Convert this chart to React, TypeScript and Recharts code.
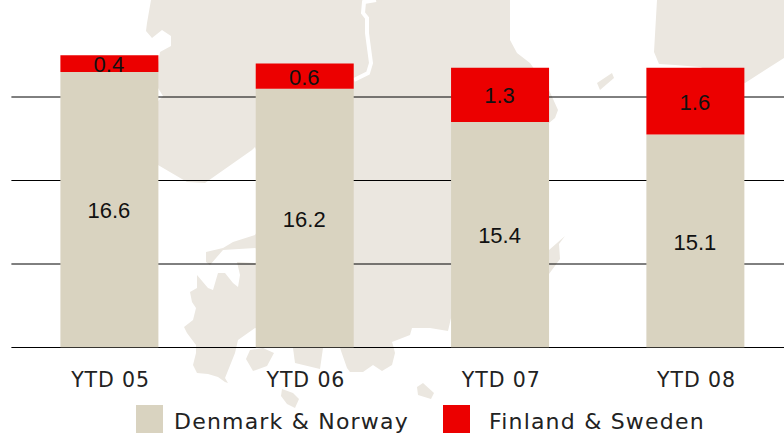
import React from "react";
import {
  BarChart,
  Bar,
  XAxis,
  YAxis,
  CartesianGrid,
  Legend,
  LabelList,
} from "recharts";

const categories = ["YTD 05", "YTD 06", "YTD 07", "YTD 08"];
const denmarkNorway = [16.6, 16.2, 15.4, 15.1];
const finlandSweden = [0.4, 0.6, 1.3, 1.6];
const totals = ["17.0", "16.8", "16.7", "16.7"];
const yTicks = [10, 12, 14, 16];

const data = categories.map((name, i) => ({
  name,
  denmarkNorway: denmarkNorway[i],
  finlandSweden: finlandSweden[i],
}));

const PLOT_BOTTOM = 347.5;
const TAN = "#D9D3C0";
const RED = "#EC0000";
const MAP = "#EBE7E0";
const WIDE_FONT = "'DejaVu Sans', Verdana, sans-serif";

// the totals are not centred on the bars in the original
const totalDx = [2.5, -14, -8, -8];

// pale map behind the chart, only decoration
const mapShapes = [
  "151,0 510,0 510,40 517,53 530,63 549,90 558,110 555,118 549,123 540,200 549,250 565,236 559,244 560,259 549,274 451,318 448,331 430,328 412,328 410,335 392,342 393,345 395,353 392,365 382,371 373,365 363,372 350,372 347,368 340,348 300,340 255,328 238,340 235,353 225,378 228,383 225,382 218,377 208,374 197,373 193,365 196,353 196,345 187,333 184,327 193,320 196,308 192,302 190,292 197,288 197,275 208,288 213,290 218,273 225,273 233,283 238,287 240,275 237,262 255,263 270,255 255,248 223,250 210,265 206,262 206,252 223,248 233,242 255,235 275,200 255,147 252,150 205,183 187,182 158,165 158,101 163,96 158,88 158,63 160,52 171,46 171,36 162,30 152,38 146,31 147,23",
  "657,0 654,52 659,64 675,65 700,67 745,83 784,58 784,0",
  "597,83 612,73 614,78 600,90",
  "250,350 246,359 253,371 267,366 274,353 263,348",
  "293,348 295,363 320,369 323,348",
  "282,389 293,393 299,399 295,408 287,404 281,396",
  "417,387 423,383 434,393 431,399 418,395",
];
const river = "376,0 364,2 363,13 367,18 367,33 371,63 368,73 354,80";

const MapBackground = () => (
  <svg width={784} height={433} style={{ position: "absolute", left: 0, top: 0 }}>
    {mapShapes.map((points, i) => (
      <polygon key={i} points={points} fill={MAP} />
    ))}
    <polyline points={river} fill="none" stroke="#fff" strokeWidth={4} />
  </svg>
);

// centre of the visible part of the bar, the axis is cut at 10
const BarValue = (props: any) => {
  const { x, y, width, height, value } = props;
  const bottom = Math.min(y + height, PLOT_BOTTOM);
  return (
    <text
      x={x + width / 2 - 0.5}
      y={(y + bottom) / 2 + 1}
      textAnchor="middle"
      dominantBaseline="central"
      fontFamily="'Liberation Sans', Arial, sans-serif"
      fontSize={22}
      fill="#111"
    >
      {value.toFixed(1)}
    </text>
  );
};

const TotalTick = (props: any) => {
  const { x, index } = props;
  return (
    <text
      x={x + totalDx[index]}
      y={31}
      textAnchor="middle"
      fontFamily={WIDE_FONT}
      fontSize={20}
      letterSpacing={0.8}
      fill="#222"
    >
      {totals[index]}
    </text>
  );
};

const CategoryTick = (props: any) => {
  const { x, index } = props;
  return (
    <text
      x={x + 1.5}
      y={387}
      textAnchor="middle"
      fontFamily={WIDE_FONT}
      fontSize={20.5}
      letterSpacing={0.9}
      fill="#222"
    >
      {categories[index]}
    </text>
  );
};

const ChartLegend = (props: any) => (
  <div style={{ display: "flex", fontFamily: WIDE_FONT, fontSize: 22, letterSpacing: 1.2, color: "#222" }}>
    {props.payload.map((item: any, i: number) => (
      <div key={item.value} style={{ display: "flex", alignItems: "flex-start", marginRight: 34 }}>
        <div style={{ width: 27, height: 28, background: item.color }} />
        <span style={{ marginLeft: i === 0 ? 11 : 19, lineHeight: "34px" }}>{item.value}</span>
      </div>
    ))}
  </div>
);

const App: React.FC = () => {
  return (
    <div style={{ position: "absolute", left: 0, top: 0, width: 784, height: 433, overflow: "hidden", background: "#fff" }}>
      <MapBackground />
      <BarChart
        width={800}
        height={433}
        data={data}
        margin={{ top: 13.5, right: 7.3, left: 11.4, bottom: 45.5 }}
        style={{ position: "absolute", left: 0, top: 0 }}
      >
        <CartesianGrid vertical={false} stroke="#000" strokeWidth={1} syncWithTicks />
        <XAxis
          dataKey="name"
          axisLine={false}
          tickLine={false}
          height={40}
          interval={0}
          tick={CategoryTick}
        />
        <XAxis
          xAxisId="totals"
          orientation="top"
          dataKey="name"
          axisLine={false}
          tickLine={false}
          height={0}
          interval={0}
          tick={TotalTick}
        />
        <YAxis hide domain={[10, 18]} ticks={yTicks} allowDataOverflow />
        <Legend
          layout="horizontal"
          verticalAlign="middle"
          content={ChartLegend}
          wrapperStyle={{ left: 136, top: 405, width: 640, height: 28 }}
        />
        <Bar
          dataKey="denmarkNorway"
          name="Denmark & Norway"
          stackId="sales"
          fill={TAN}
          barSize={98}
          isAnimationActive={false}
        >
          <LabelList dataKey="denmarkNorway" content={BarValue} />
        </Bar>
        <Bar
          dataKey="finlandSweden"
          name="Finland & Sweden"
          stackId="sales"
          fill={RED}
          barSize={98}
          isAnimationActive={false}
        >
          <LabelList dataKey="finlandSweden" content={BarValue} />
        </Bar>
      </BarChart>
    </div>
  );
};

export default App;
